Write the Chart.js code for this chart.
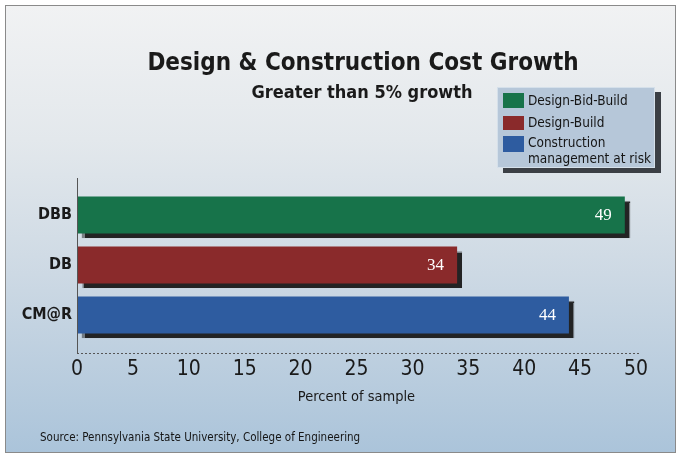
<!DOCTYPE html>
<html>
<head>
<meta charset="utf-8">
<script src="https://cdn.jsdelivr.net/npm/chart.js@4.4.1/dist/chart.umd.min.js"></script>
<style>
  html, body { margin: 0; padding: 0; background: #fff; }
  #wrap { width: 681px; height: 460px; }
</style>
</head>
<body>
<div id="wrap"><canvas id="chart" width="681" height="460"></canvas></div>
<script>
const categories = ['DBB', 'DB', 'CM@R'];
const values = [49, 34, 44];
const barColors = ['#17734a', '#8a2a2b', '#2e5ca0'];
const legendLabels = [['Design-Bid-Build'], ['Design-Build'], ['Construction', 'management at risk']];
const titleText = 'Design & Construction Cost Growth';
const subtitleText = 'Greater than 5% growth';
const xAxisTitle = 'Percent of sample';
const sourceText = 'Source: Pennsylvania State University, College of Engineering';

const NARROW = "'DejaVu Sans Condensed', 'Liberation Sans Narrow', Roboto, sans-serif";

// frame, titles, legend box and source line
const decor = {
    id: 'decor',
    beforeDraw(chart) {
        const ctx = chart.ctx;
        ctx.save();
        ctx.fillStyle = '#ffffff';
        ctx.fillRect(0, 0, chart.width, chart.height);
        const g = ctx.createLinearGradient(0, 6, 0, 452);
        g.addColorStop(0, '#f1f2f3');
        g.addColorStop(0.3, '#e3e8ec');
        g.addColorStop(0.6, '#cdd9e4');
        g.addColorStop(1, '#abc4da');
        ctx.fillStyle = g;
        ctx.fillRect(6, 6, 669, 446);
        ctx.strokeStyle = '#8a8a8a';
        ctx.lineWidth = 1;
        ctx.strokeRect(5.5, 5.5, 670, 447);
        ctx.restore();
    },
    afterDraw(chart) {
        const ctx = chart.ctx;
        const area = chart.chartArea;
        ctx.save();
        // axis lines
        ctx.strokeStyle = '#555';
        ctx.lineWidth = 1;
        ctx.beginPath();
        ctx.moveTo(area.left + 0.5, area.top - 12);
        ctx.lineTo(area.left + 0.5, area.bottom + 13);
        ctx.stroke();
        ctx.setLineDash([2, 2]);
        ctx.beginPath();
        ctx.moveTo(area.left, area.bottom + 13.5);
        ctx.lineTo(area.right + 4, area.bottom + 13.5);
        ctx.stroke();
        ctx.setLineDash([]);

        // titles
        ctx.fillStyle = '#1a1a1a';
        ctx.textAlign = 'center';
        ctx.textBaseline = 'middle';
        ctx.font = "bold 24px " + NARROW;
        ctx.fillText(titleText, 363, 64);
        ctx.font = "bold 18px " + NARROW;
        ctx.fillText(subtitleText, 362, 93);

        // legend
        const lx = 497, ly = 87, lw = 158, lh = 81;
        ctx.fillStyle = '#3b3f45';
        ctx.fillRect(lx + 6, ly + 5, lw, lh);
        ctx.fillStyle = '#b6c7d9';
        ctx.fillRect(lx, ly, lw, lh);
        ctx.strokeStyle = '#d5e0ea';
        ctx.strokeRect(lx + 0.5, ly + 0.5, lw - 1, lh - 1);
        const rows = [[93, 108, 101], [116, 130, 123], [136, 152, 143]];
        ctx.textAlign = 'left';
        ctx.font = "13.5px " + NARROW;
        legendLabels.forEach((lines, i) => {
            const [t, b, ty] = rows[i];
            ctx.fillStyle = barColors[i];
            ctx.fillRect(503, t, 21, b - t);
            ctx.fillStyle = '#151515';
            lines.forEach((s, j) => ctx.fillText(s, 528, ty + j * 16));
        });

        // source
        ctx.font = "11.5px " + NARROW;
        ctx.fillStyle = '#151515';
        ctx.fillText(sourceText, 40, 438);
        ctx.restore();
    }
};

// bar shadows and value labels
const barShadow = {
    id: 'barShadow',
    beforeDatasetsDraw(chart) {
        const ctx = chart.ctx;
        ctx.save();
        ctx.shadowColor = 'rgba(25,25,25,0.95)';
        ctx.shadowOffsetX = 5;
        ctx.shadowOffsetY = 4;
        ctx.shadowBlur = 1;
    },
    afterDatasetsDraw(chart) {
        const ctx = chart.ctx;
        ctx.restore();
        ctx.save();
        ctx.fillStyle = '#ffffff';
        ctx.font = "17px 'Liberation Serif', 'DejaVu Serif', serif";
        ctx.textAlign = 'right';
        ctx.textBaseline = 'middle';
        chart.getDatasetMeta(0).data.forEach((bar, i) => {
            ctx.fillText(String(values[i]), bar.x - 13, bar.y + 1);
        });
        ctx.restore();
    }
};

new Chart(document.getElementById('chart'), {
    type: 'bar',
    data: {
        labels: categories,
        datasets: [{
            data: values,
            backgroundColor: barColors,
            borderWidth: 0,
            barPercentage: 0.74,
            categoryPercentage: 1
        }]
    },
    options: {
        indexAxis: 'y',
        responsive: false,
        animation: false,
        layout: { padding: { top: 190, right: 45, bottom: 0, left: 0 } },
        plugins: {
            legend: { display: false },
            tooltip: { enabled: false }
        },
        scales: {
            x: {
                min: 0,
                max: 50,
                grid: { display: false, drawTicks: false },
                border: { display: false },
                ticks: {
                    stepSize: 5,
                    padding: 17,
                    color: '#1a1a1a',
                    font: { family: NARROW, size: 21 }
                },
                title: {
                    display: true,
                    text: xAxisTitle,
                    color: '#1a1a1a',
                    font: { family: NARROW, size: 14.5 },
                    padding: { top: 0, bottom: 54 }
                },
                afterFit(scale) { scale.height = 120; }
            },
            y: {
                grid: { display: false, drawTicks: false },
                border: { display: false },
                ticks: {
                    padding: 5,
                    color: '#1a1a1a',
                    font: { family: NARROW, size: 16, weight: 'bold' }
                },
                afterFit(scale) { scale.width = 77; }
            }
        }
    },
    plugins: [decor, barShadow]
});
</script>
</body>
</html>
